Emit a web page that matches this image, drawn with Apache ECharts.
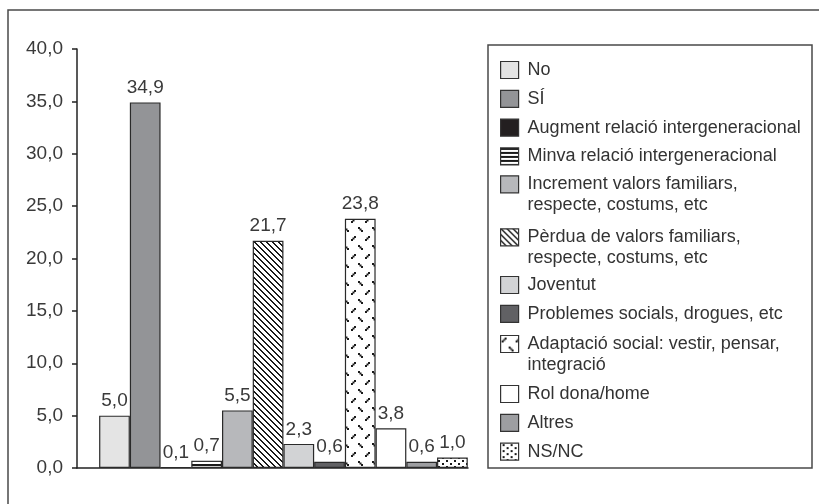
<!DOCTYPE html>
<html><head><meta charset="utf-8">
<script src="https://cdn.jsdelivr.net/npm/echarts@6/dist/echarts.min.js"></script>
<style>html,body{margin:0;padding:0;background:#fff;}#c{width:819px;height:504px;}</style>
</head><body><div id="c"></div>
<script>
const seriesNames = ['No', 'SÍ', 'Augment relació intergeneracional', 'Minva relació intergeneracional',
  'Increment valors familiars, respecte, costums, etc', 'Pèrdua de valors familiars, respecte, costums, etc',
  'Joventut', 'Problemes socials, drogues, etc', 'Adaptació social: vestir, pensar, integració',
  'Rol dona/home', 'Altres', 'NS/NC'];
const seriesValues = [5.0, 34.9, 0.1, 0.7, 5.5, 21.7, 2.3, 0.6, 23.8, 3.8, 0.6, 1.0];
const yTicks = [0, 5, 10, 15, 20, 25, 30, 35, 40];
const groupPosition = 0; // the single group of bars on the x axis

const FONT = 'Liberation Sans, Arial, sans-serif';
const TXT = '#3a3a3a';

function pattern(w, h, draw) {
  const c = document.createElement('canvas');
  c.width = w; c.height = h;
  const g = c.getContext('2d');
  g.fillStyle = '#fff'; g.fillRect(0, 0, w, h);
  g.fillStyle = '#1a1a1a';
  draw(g);
  return { image: c, repeat: 'repeat' };
}
const stripes = pattern(4, 4, g => { g.fillRect(0, 0, 4, 2); });
const hatch = pattern(6, 6, g => { for (let i = 0; i < 6; i++) { g.fillRect(i, i, 2, 1); } g.fillRect(0, 5, 1, 1); });
const zigzag = pattern(14, 18, g => {
  for (let i = 0; i < 3; i++) { g.fillRect(1 + i * 1.5, 5 - i * 1.5, 2, 2); }
  for (let i = 0; i < 3; i++) { g.fillRect(8 + i * 1.5, 11 + i * 1.5, 2, 2); }
});
const dots = pattern(8, 6, g => { g.fillRect(2, 1, 2, 2); g.fillRect(6, 4, 2, 2); });

const fills = ['#e4e4e4', '#939497', '#231f20', stripes, '#b7b8bb', hatch,
  '#d2d3d5', '#616164', zigzag, '#ffffff', '#9d9ea1', dots];

const twoLine = /^(Increment valors familiars,|Pèrdua de valors familiars,|Adaptació social: vestir, pensar,) /;
// legend blocks: [first index, end index, top]
const legendBlocks = [[0, 4, 59.5], [4, 5, 173.8], [5, 6, 226.8], [6, 8, 274.5], [8, 9, 333.5], [9, 12, 383.5]];
const topIcon = 'path://M0,0H18V17H0Z M0,38';

const chart = echarts.init(document.getElementById('c'), null, { renderer: 'canvas' });
chart.setOption({
  animation: false,
  backgroundColor: '#fff',
  textStyle: { fontFamily: FONT },
  grid: { left: 77, right: 351, top: 49, bottom: 36, containLabel: false, outerBoundsMode: 'none' },
  xAxis: {
    type: 'value', min: -0.528, max: 0.472,
    axisLine: { show: true, lineStyle: { color: '#222', width: 1.5 } },
    axisTick: { show: false }, axisLabel: { show: false }, splitLine: { show: false }
  },
  yAxis: {
    type: 'value', min: yTicks[0], max: yTicks[yTicks.length - 1], interval: yTicks[1] - yTicks[0],
    axisLine: { show: true, onZero: false, lineStyle: { color: '#222', width: 1.5 } },
    axisTick: { show: true, length: 5, lineStyle: { color: '#222', width: 1.5 } },
    axisLabel: { fontSize: 19, color: TXT, margin: 14, fontFamily: FONT,
      formatter: v => v.toFixed(1).replace('.', ',') },
    splitLine: { show: false }
  },
  legend: legendBlocks.map(b => {
    const names = seriesNames.slice(b[0], b[1]);
    const multi = names.some(n => twoLine.test(n));
    return {
      orient: 'vertical', left: 500, top: b[2], padding: 0,
      itemGap: 7.8, itemWidth: 18, itemHeight: multi ? 38 : 17,
      icon: multi ? topIcon : 'rect', selectedMode: false,
      itemStyle: { borderColor: '#333', borderWidth: 1.2 },
      textStyle: { fontSize: 18, lineHeight: 21, color: '#333', fontFamily: FONT, padding: [0, 0, 0, 4] },
      formatter: n => n.replace(twoLine, '$1\n'),
      data: names
    };
  }),
  graphic: [
    { type: 'rect', silent: true, shape: { x: 8, y: 10, width: 1200, height: 1200 },
      style: { fill: 'none', stroke: '#4a4a4a', lineWidth: 1.5 } },
    { type: 'rect', silent: true, shape: { x: 488, y: 45, width: 324, height: 423 },
      style: { fill: 'none', stroke: '#4a4a4a', lineWidth: 1.5 } }
  ],
  series: seriesNames.map((name, i) => ({
    name, type: 'bar', barWidth: 30.72, barGap: '0%',
    data: [[groupPosition, seriesValues[i]]],
    itemStyle: { color: fills[i], borderColor: '#2a2a2a', borderWidth: 1.2 },
    label: { show: true, position: 'top', distance: 5, fontSize: 19, color: TXT, fontFamily: FONT,
      formatter: p => p.value[1].toFixed(1).replace('.', ',') },
    emphasis: { disabled: true }
  }))
});
</script></body></html>
